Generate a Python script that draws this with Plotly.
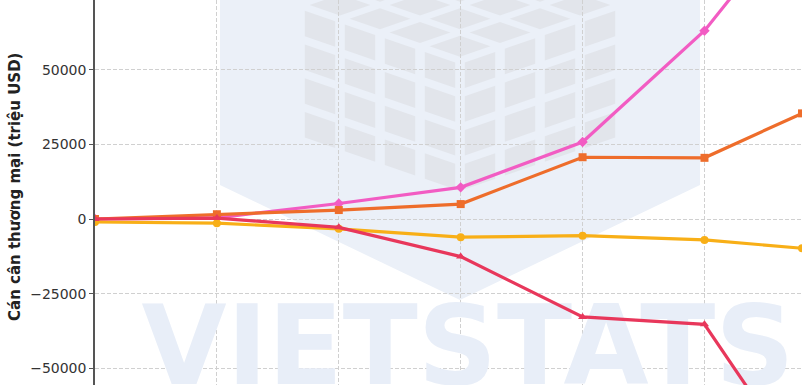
import plotly.graph_objects as go

years = [1995, 2000, 2005, 2010, 2015, 2020, 2024]
hoa_ky = [0, 400, 5200, 10600, 25800, 63100, 104000]
eu = [0, 1600, 3000, 5000, 20700, 20500, 35400]
asean = [-1000, -1400, -3300, -6100, -5600, -7000, -9800]
trung_quoc = [0, 300, -2800, -12600, -32800, -35300, -83400]

series = [
    ("Hoa Kỳ", hoa_ky, "#F25CC3", "diamond"),
    ("EU", eu, "#EE6D2B", "square"),
    ("ASEAN", asean, "#F8AF17", "circle"),
    ("Trung Quốc", trung_quoc, "#E8375B", "triangle-up"),
]

W, H = 810, 385
ML, MR = 95, 8
PW = W - ML - MR
Y_TOP, Y_BOT = 73391, -55630


def px(x, y):
    return (x - ML) / PW, 1 - y / H


def path(pts):
    s = ""
    for i, (x, y) in enumerate(pts):
        a, b = px(x, y)
        s += ("M" if i == 0 else "L") + f"{a:.5f},{b:.5f} "
    return s + "Z"


shapes = []
# watermark hexagon
shapes.append(dict(type="path", xref="paper", yref="paper", layer="below",
                   path=path([(220, -120), (700, -120), (700, 185), (460, 300), (220, 185)]),
                   fillcolor="#EBF0F8", line=dict(width=0)))


def face_tiles(c00, c10, c11, c01, n=4, gap=0.12):
    def lerp(u, v):
        tx = c00[0] * (1 - u) * (1 - v) + c10[0] * u * (1 - v) + c11[0] * u * v + c01[0] * (1 - u) * v
        ty = c00[1] * (1 - u) * (1 - v) + c10[1] * u * (1 - v) + c11[1] * u * v + c01[1] * (1 - u) * v
        return tx, ty
    out = []
    for i in range(n):
        for j in range(n):
            u0, u1 = (i + gap) / n, (i + 1 - gap) / n
            v0, v1 = (j + gap) / n, (j + 1 - gap) / n
            out.append(path([lerp(u0, v0), lerp(u1, v0), lerp(u1, v1), lerp(u0, v1)]))
    return out


tiles = []
tiles += face_tiles((300, 5), (460, 60), (460, 195), (300, 140))
tiles += face_tiles((460, 60), (620, 5), (620, 140), (460, 195))
tiles += face_tiles((300, 5), (460, -50), (620, 5), (460, 60))
for p in tiles:
    shapes.append(dict(type="path", xref="paper", yref="paper", layer="below",
                       path=p, fillcolor="#E2E5EB", line=dict(width=0)))

fig = go.Figure()

# watermark text
fig.add_trace(go.Scatter(x=[2010.3], y=[-46000], mode="text", text=["VIETSTATS"],
                         textposition="middle center", hoverinfo="skip", showlegend=False,
                         textfont=dict(family="DejaVu Sans", size=110, color="#E8EEF8", weight="bold")))

for name, vals, color, sym in series:
    fig.add_trace(go.Scatter(x=years, y=vals, name=name, mode="lines+markers",
                             line=dict(color=color, width=3.2),
                             marker=dict(symbol=sym, size=8, color=color),
                             showlegend=False))

fig.update_layout(
    width=W, height=H,
    margin=dict(l=ML, r=MR, t=0, b=0, autoexpand=False),
    paper_bgcolor="white", plot_bgcolor="rgba(0,0,0,0)",
    shapes=shapes,
    xaxis=dict(range=[1995, 2024], tick0=1995, dtick=5, showticklabels=False,
               showgrid=True, gridcolor="#D0D0D0", griddash="4px,2px", gridwidth=0.8,
               zeroline=False, showline=False, ticks="", automargin=False),
    yaxis=dict(range=[Y_BOT, Y_TOP], tick0=0, dtick=25000, tickformat="d",
               showgrid=True, gridcolor="#D0D0D0", griddash="4px,2px", gridwidth=0.8,
               zeroline=False, showline=True, linecolor="#555555", linewidth=1.5,
               ticks="outside", ticklen=4, tickcolor="#555555", automargin=False,
               tickfont=dict(family="DejaVu Sans", size=14, color="#333333")),
    annotations=[
        dict(text="Cán cân thương mại (triệu USD)", textangle=-90, showarrow=False,
             xref="paper", yref="paper", x=px(15, 187)[0], y=px(15, 187)[1],
             xanchor="center", yanchor="middle",
             font=dict(family="DejaVu Sans", size=15, color="#222222", weight="bold")),
        dict(text="75000", showarrow=False, xref="paper", yref="paper",
             x=px(89, 0)[0], y=1 + 4.8 / H, xanchor="right", yanchor="middle",
             font=dict(family="DejaVu Sans", size=14, color="#333333")),
    ],
)

fig.write_html("out.html", config={"displayModeBar": False},
               post_script="document.body.style.margin='0px';document.body.style.overflow='hidden';")
